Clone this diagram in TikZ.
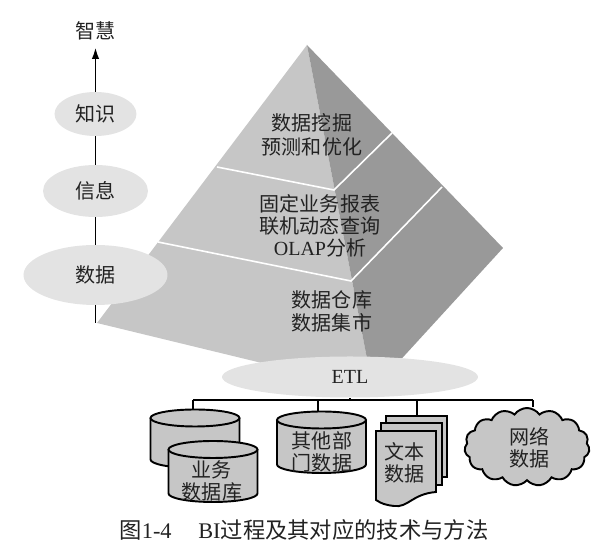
\documentclass[tikz,border=0pt]{standalone}
\usepackage{fontspec}
\setmainfont{Noto Sans CJK SC}
\newfontfamily\latinfont{Liberation Serif}
\usetikzlibrary{arrows.meta,shapes.geometric,shapes.symbols}
\tikzset{
  oval/.style={ellipse, fill=ovalgray, inner sep=0pt},
  txt/.style={align=center, font=\fontsize{11.4}{12.6}\selectfont, text=textgray, inner sep=0pt},
  page/.style={draw=black, line width=1.1pt, fill=facegray},
  wire/.style={draw=black, line width=1.1pt},
  band/.style={draw=white, line width=.9pt}
}
\definecolor{ovalgray}{HTML}{E3E3E3}
\definecolor{facegray}{HTML}{C6C6C6}
\definecolor{darkgray}{HTML}{999999}
\definecolor{textgray}{HTML}{222222}
\newcommand{\drum}[4]{
\coordinate (#1) at (#2,#3-8.5);
\draw[page] (#2-44.5,#3) -- (#2-44.5,#4) arc[start angle=180, end angle=360, x radius=.89cm, y radius=.17cm] -- (#2+44.5,#3);
\draw[page] (#2,#3) ellipse[x radius=.89cm, y radius=.17cm];
}
\begin{document}
\begin{tikzpicture}[x=.02cm, y=-.02cm]
\useasboundingbox (0,0) rectangle (600,550);
\coordinate (apex) at (307,45);
\coordinate (baseL) at (97,323);
\coordinate (baseM) at (373,390);
\coordinate (baseR) at (503,248);
\fill[facegray] (apex) -- (baseL) -- (baseM) -- cycle;
\fill[darkgray] (apex) -- (baseM) -- (baseR) -- cycle;
\draw[band] (217,167) -- (334,190) -- (392,133);
\draw[band] (158,242) -- (351,281) -- (442,187);
\node[txt] (top) at (312,135){数据挖掘\\[1pt]预测和优化};
\node[txt] (mid) at (320,226){固定业务报表\\联机动态查询\\{\latinfont OLAP}分析};
\node[txt] (low) at (332,311){数据仓库\\[.5pt]数据集市};
\node[oval, minimum width=82*.02cm, minimum height=44*.02cm] (zhishi) at (95.5,114){};
\node[oval, minimum width=105*.02cm, minimum height=52*.02cm] (xinxi) at (95.5,191){};
\node[oval, minimum width=144*.02cm, minimum height=60*.02cm] (shuju) at (95.5,275){};
\node[txt] (zhishitxt) at (96,114){知识};
\node[txt] (xinxitxt) at (96,191){信息};
\node[txt] (shujutxt) at (96,275){数据};
\node[txt, minimum height=32*.02cm] (zhihui) at (95.5,31){智慧};
\coordinate (foot) at (95.5,323);
\draw[wire] (foot) -- (shuju);
\draw[wire] (shuju) -- (xinxi);
\draw[wire] (xinxi) -- (zhishi);
\draw[wire, -{Latex[length=6.5pt,width=4.2pt]}] (zhishi) -- (zhihui);
\node[oval, minimum width=256*.02cm, minimum height=41*.02cm] (etl) at (350,377){};
\node[txt] (etltxt) at (350,377){\latinfont ETL};
\coordinate (bus) at (350,400);
\coordinate (busL) at (193,400);
\coordinate (busA) at (318,400);
\coordinate (busB) at (417,400);
\coordinate (busR) at (533,400);
\drum{ods}{195}{418}{459.5}
\drum{erp}{213}{449.5}{493.5}
\node[txt] (erptxt) at (212,481){业务\\数据库};
\drum{other}{321.5}{420}{464.5}
\node[txt] (othertxt) at (322,451.5){其他部\\门数据};
\draw[page] (386,416) -- (447,416) -- (447,477) -- (386,477) -- cycle;
\draw[page] (381,423) -- (442,423) -- (442,485) -- (381,485) -- cycle;
\draw[page] (376,431) -- (436,431) -- (436,492) .. controls (412,494) and (408,508) .. (394,506) .. controls (386,505) and (382,504) .. (376,500) -- cycle;
\node[txt] (text) at (405,463){文本\\数据};
\coordinate (textTop) at (417,416);
\node[cloud, cloud puffs=15, cloud puff arc=110, aspect=1.6, draw=black, line width=1.1pt, fill=facegray, minimum width=125*.02cm, minimum height=78*.02cm, inner sep=0pt] (web) at (527,447){};
\node[txt] (webtxt) at (530,447.5){网络\\数据};
\draw[wire] (busL) -- (busR);
\draw[wire] (etl) -- (bus);
\draw[wire] (busL) -- (busL |- ods);
\draw[wire] (busA) -- (busA |- other);
\draw[wire] (busB) -- (textTop);
\draw[wire] (busR) -- (busR |- web.north);
\node[txt, font=\fontsize{12.7}{14}\selectfont] (caption) at (304,530){图{\latinfont 1-4}\hspace{1.2em}{\latinfont BI}过程及其对应的技术与方法};
\end{tikzpicture}
\end{document}
